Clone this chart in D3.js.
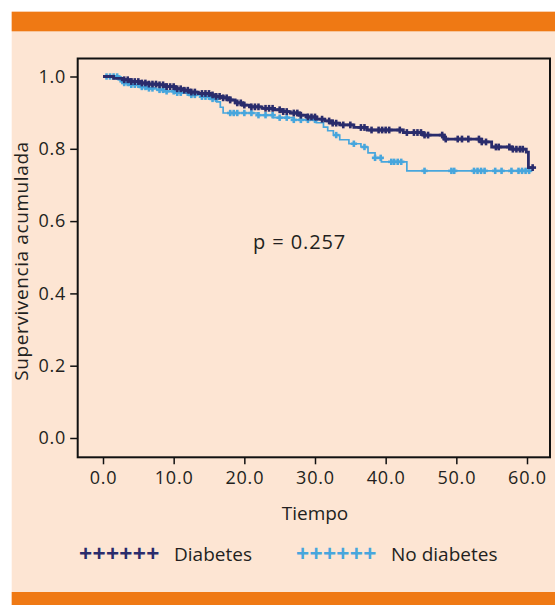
<!DOCTYPE html>
<html>
<head>
<meta charset="utf-8">
<script src="https://d3js.org/d3.v7.min.js"></script>
<style>
  body { margin: 0; background: #fff; }
  text { font-family: "Open Sans", sans-serif; fill: #231f20; }
</style>
</head>
<body>
<div class="chart"></div>
<script>
// Kaplan-Meier steps (time, cumulative survival)
var diabTime = [0, 1.5, 2.8, 4, 5.2, 6.5, 7.6, 9, 10.2, 11.5, 12.3, 13.5, 15.1, 16, 17, 18, 18.7, 19.8, 20.8, 22.5, 24.1, 25.5, 26.5, 27.8, 28.9, 30.2, 31.4, 32.5, 33.5, 35.5, 37.4, 42.5, 45.4, 48.3, 53.6, 55.0, 57.9, 59.9, 60.2];
var diabSurv = [1.0, 0.995, 0.991, 0.986, 0.982, 0.979, 0.977, 0.972, 0.966, 0.962, 0.957, 0.953, 0.949, 0.945, 0.941, 0.935, 0.927, 0.921, 0.916, 0.912, 0.908, 0.903, 0.899, 0.893, 0.888, 0.882, 0.877, 0.871, 0.866, 0.859, 0.852, 0.845, 0.838, 0.827, 0.819, 0.805, 0.799, 0.791, 0.748];
var diabEnd = 61;
var diabCensor = [3, 3.5, 4, 4.5, 5, 5.5, 6, 6.5, 7, 7.5, 8, 8.5, 9, 9.5, 10, 10.5, 11, 11.5, 12, 12.5, 13, 14, 14.5, 15, 15.5, 16, 16.5, 17, 17.5, 18, 19, 19.5, 20, 21, 21.5, 22, 23, 23.5, 24, 25, 25.5, 26, 27, 27.5, 28, 29, 29.5, 30, 31, 32, 32.5, 33, 34, 35, 36.5, 37, 38, 39, 39.5, 40, 40.5, 42, 43, 44, 44.5, 45, 45.5, 46, 48, 48.5, 50.2, 50.8, 51.7, 53.2, 53.6, 54.2, 55.6, 56, 57.5, 58, 58.5, 59, 59.4, 60.8];

var noTime = [0, 2.4, 2.8, 4, 5.2, 6.5, 7.6, 9, 10.2, 12.3, 14, 15.1, 16.1, 16.6, 17.0, 22, 24.1, 27, 30.2, 31.2, 31.8, 32.6, 33.5, 34.8, 36.5, 37.5, 38.5, 39.4, 43.0];
var noSurv = [1.0, 0.992, 0.982, 0.977, 0.971, 0.967, 0.963, 0.959, 0.955, 0.949, 0.944, 0.938, 0.930, 0.915, 0.899, 0.893, 0.886, 0.880, 0.872, 0.860, 0.850, 0.838, 0.825, 0.814, 0.805, 0.789, 0.775, 0.764, 0.739];
var noEnd = 60.7;
var noCensor = [0.5, 1, 1.5, 2, 2.5, 3, 3.5, 4, 4.5, 5, 5.5, 6, 6.5, 7, 8, 8.5, 9, 10, 10.5, 11, 12, 12.5, 13, 14, 14.5, 15, 15.5, 16, 18, 18.5, 19, 20, 21, 22, 23, 24, 25, 26, 27, 28, 29, 30, 33, 35.5, 37, 38.5, 39.3, 40.8, 41.2, 41.7, 42.2, 45.5, 49.3, 49.7, 52.5, 53, 53.5, 54, 55.5, 56.4, 57.8, 58.8, 59.3, 59.8, 60.3];

var xTicks = [0, 10, 20, 30, 40, 50, 60];
var yTicks = [0, 0.2, 0.4, 0.6, 0.8, 1.0];
var pText = "p = 0.257";

var w = 555, h = 605;
var box = {l: 77.7, t: 58.5, r: 550, b: 457.3};
var darkCol = "#2a2c6c", lightCol = "#47a6dd";

var svg = d3.select("div.chart").append("svg")
    .attr("width", w).attr("height", h);

// panel background and orange bars
svg.append("rect").attr("x", 11.7).attr("y", 11.7).attr("width", w - 11.7).attr("height", h - 11.7).attr("fill", "#fde5d3");
svg.append("rect").attr("x", 11.7).attr("y", 11.7).attr("width", w - 11.7).attr("height", 19.6).attr("fill", "#ef7914");
svg.append("rect").attr("x", 11.7).attr("y", 592).attr("width", w - 11.7).attr("height", 13).attr("fill", "#ef7914");

var x = d3.scaleLinear().domain([0, 60]).range([103, 527]);
var y = d3.scaleLinear().domain([0, 1]).range([438, 76.5]);

// axes
var yAxis = d3.axisLeft(y).tickValues(yTicks).tickSize(7.5).tickPadding(4).tickFormat(d3.format(".1f"));
var xAxis = d3.axisBottom(x).tickValues(xTicks).tickSize(7).tickPadding(7).tickFormat(d3.format(".1f"));

var gy = svg.append("g").attr("transform", "translate(" + box.l + ",0)").call(yAxis);
var gx = svg.append("g").attr("transform", "translate(0," + box.b + ")").call(xAxis);
[gx, gy].forEach(function(g) {
    g.select(".domain").remove();
    g.selectAll("line").attr("stroke", "#111").attr("stroke-width", 1.5);
    g.selectAll("text").attr("font-size", "18px").attr("letter-spacing", "0.8px")
        .attr("font-family", "Open Sans, sans-serif").attr("fill", "#231f20");
});

svg.append("rect").attr("x", box.l).attr("y", box.t)
    .attr("width", box.r - box.l).attr("height", box.b - box.t)
    .attr("fill", "none").attr("stroke", "#111").attr("stroke-width", 2);

// curves
function stepPts(times, surv, end) {
    var pts = times.map(function(t, i) { return [t, surv[i]]; });
    pts.push([end, surv[surv.length - 1]]);
    return pts;
}
function survAt(times, surv, t) {
    var i = d3.bisectRight(times, t) - 1;
    return surv[Math.max(i, 0)];
}
var line = d3.line()
    .x(function(d) { return x(d[0]); })
    .y(function(d) { return y(d[1]); })
    .curve(d3.curveStepAfter);

function drawCurve(times, surv, end, censor, col, lw, cs) {
    svg.append("path").datum(stepPts(times, surv, end))
        .attr("d", line).attr("fill", "none")
        .attr("stroke", col).attr("stroke-width", lw);
    var g = svg.append("g").attr("stroke", col).attr("stroke-width", 2.6);
    censor.forEach(function(t) {
        var cx = x(t), cy = y(survAt(times, surv, t));
        g.append("line").attr("x1", cx - cs).attr("x2", cx + cs).attr("y1", cy).attr("y2", cy);
        g.append("line").attr("x1", cx).attr("x2", cx).attr("y1", cy - cs).attr("y2", cy + cs);
    });
}
drawCurve(noTime, noSurv, noEnd, noCensor, lightCol, 1.7, 3.2);
drawCurve(diabTime, diabSurv, diabEnd, diabCensor, darkCol, 2.8, 3.4);

// p value
svg.append("text").attr("x", 253).attr("y", 248.5)
    .attr("font-size", "20px").attr("letter-spacing", "0.9px").text(pText);

// axis titles
svg.append("text").attr("x", 315).attr("y", 520).attr("text-anchor", "middle")
    .attr("font-size", "19px").text("Tiempo");
svg.append("text").attr("transform", "translate(28,261) rotate(-90)")
    .attr("text-anchor", "middle").attr("font-size", "19px").attr("letter-spacing", "0.6px")
    .text("Supervivencia acumulada");

// legend
var legend = [["Diabetes", darkCol, 80], ["No diabetes", lightCol, 297]];
legend.forEach(function(d) {
    svg.append("text").attr("x", d[2] - 1).attr("y", 562).attr("font-size", "23px")
        .attr("font-weight", "bold").style("fill", d[1]).attr("letter-spacing", "0.3px").text("++++++");
    svg.append("text").attr("x", d[2] + 94).attr("y", 561).attr("font-size", "19px").text(d[0]);
});
</script>
</body>
</html>
